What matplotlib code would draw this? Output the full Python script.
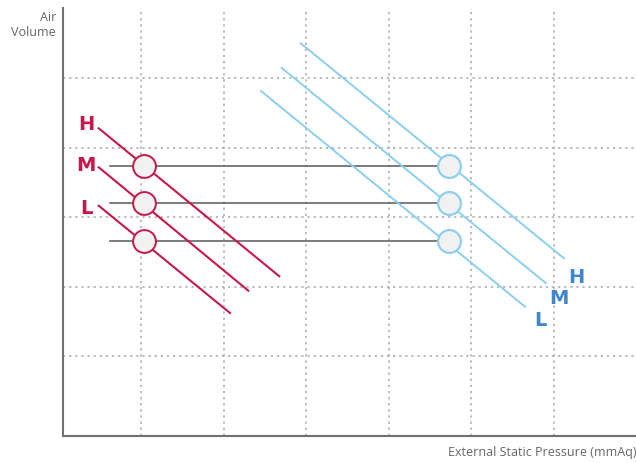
import matplotlib.pyplot as plt

# coordinates are in chart units (origin at the axes corner)
grid_x = [78, 160.5, 243, 325.5, 408, 490.5]
grid_y = [80, 149.5, 219, 288.5, 358]

speeds = ['H', 'M', 'L']

# red (low static) curves: start and end points
red_x0 = [35.7, 35.7, 35.7]
red_y0 = [307.7, 268.7, 230.3]
red_x1 = [216.3, 185.3, 167.0]
red_y1 = [159.7, 145.3, 123.0]

# blue (high static) curves
blue_x0 = [237.7, 218.7, 198.0]
blue_y0 = [392.7, 368.0, 345.0]
blue_x1 = [501.0, 482.7, 462.0]
blue_y1 = [177.7, 153.0, 129.3]

# operating points
point_y = [270.3, 233.0, 195.0]
red_px = 81.3
blue_px = 386.3
link_start = 47

red_lab_x = [23, 23, 23]
red_lab_y = [313, 271.3, 229]
blue_lab_x = [513.7, 496, 477]
blue_lab_y = [159.7, 138, 117]

red = '#c8174a'
blue_line = '#8ccfef'
blue_txt = '#3f86cc'

fig = plt.figure(figsize=(6.36, 4.64), dpi=100)
ax = fig.add_axes([63/636, 27/464, 573/636, 428/464])
ax.set_xlim(0, 573)
ax.set_ylim(0, 428)

ax.set_xticks(grid_x)
ax.set_yticks(grid_y)
ax.tick_params(length=0, labelbottom=False, labelleft=False)
ax.grid(True, linestyle=(0, (1.5, 2.5)), color='#aaaaaa', linewidth=1.1)
for s in ['top', 'right']:
    ax.spines[s].set_visible(False)
for s in ['left', 'bottom']:
    ax.spines[s].set_color('#707070')
    ax.spines[s].set_linewidth(1.5)

# gray links between the two sets of points
for y in point_y:
    ax.plot([link_start, blue_px], [y, y], color='#666666', lw=1.2, zorder=2)

for i in range(3):
    ax.plot([red_x0[i], red_x1[i]], [red_y0[i], red_y1[i]], color=red, lw=1.5, zorder=3)
    ax.plot([blue_x0[i], blue_x1[i]], [blue_y0[i], blue_y1[i]], color=blue_line, lw=1.4, zorder=3)
    ax.text(red_lab_x[i], red_lab_y[i], speeds[i], color=red, fontsize=14,
            fontweight='bold', ha='center', va='center')
    ax.text(blue_lab_x[i], blue_lab_y[i], speeds[i], color=blue_txt, fontsize=14,
            fontweight='bold', ha='center', va='center')

ax.scatter([red_px]*3, point_y, s=270, facecolor='#f1f1f1', edgecolor=red,
           linewidth=1.4, zorder=4, clip_on=False)
ax.scatter([blue_px]*3, point_y, s=270, facecolor='#f1f1f1', edgecolor=blue_line,
           linewidth=1.6, zorder=4, clip_on=False)

fig.text(56/636, 1 - 25/464, 'Air\nVolume', ha='right', va='center', fontsize=9,
         color='#666666', family='Open Sans', linespacing=1.25)
fig.text(1.0, 1 - 453/464, 'External Static Pressure (mmAq)', ha='right', va='center',
         fontsize=9, color='#666666', family='Open Sans')

fig.savefig('out.png', dpi=100)
